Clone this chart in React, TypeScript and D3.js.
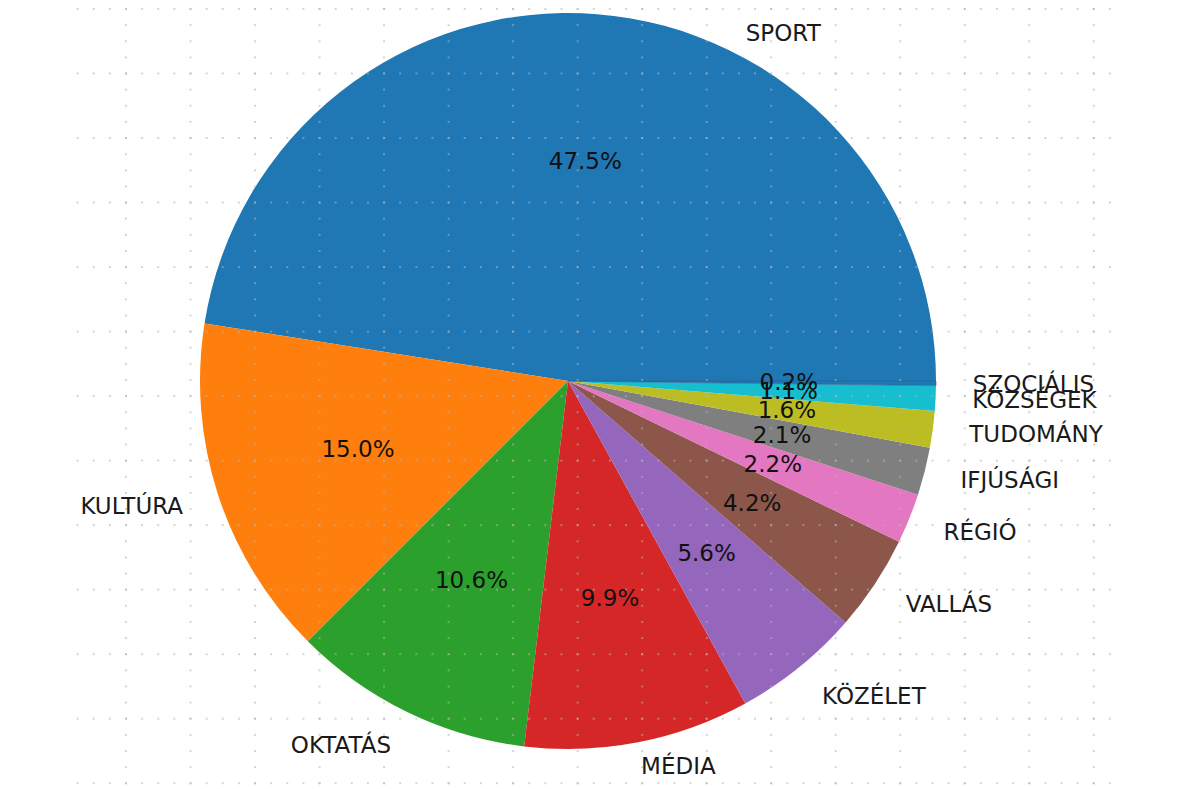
import React from "react";
import * as d3 from "d3";

const categories = ["SPORT", "KULTÚRA", "OKTATÁS", "MÉDIA", "KÖZÉLET", "VALLÁS", "RÉGIÓ", "IFJÚSÁGI", "TUDOMÁNY", "KÖZSÉGEK", "SZOCIÁLIS"];
const values = [47.5, 15.0, 10.6, 9.9, 5.6, 4.2, 2.2, 2.1, 1.6, 1.1, 0.2];
const colors = ["#1f77b4", "#ff7f0e", "#2ca02c", "#d62728", "#9467bd", "#8c564b", "#e377c2", "#7f7f7f", "#bcbd22", "#17becf", "#1f77b4"];

const W = 1200;
const H = 789;
const cx = 568;
const cy = 381;
const R = 368;
const FONT = "DejaVu Sans, sans-serif";
const FS = 23;

// label nudges for labels kept inside the canvas
const nudge: Record<string, [number, number]> = {
  SPORT: [146, 56],
  "MÉDIA": [-4, -12],
};

export default function App() {
  const data = categories.map((c, i) => ({ c, v: values[i], color: colors[i] }));
  const pie = d3
    .pie<{ c: string; v: number; color: string }>()
    .sort(null)
    .value((d) => d.v)
    .startAngle(Math.PI / 2)
    .endAngle(Math.PI / 2 - 2 * Math.PI);
  const arcs = pie(data);
  const arc = d3.arc<d3.PieArcDatum<{ c: string; v: number; color: string }>>().innerRadius(0).outerRadius(R);

  const step = 64.52;
  const dot = step / 4;
  const vxs = d3.range(16).map((k) => 126 + k * step);
  const hys = d3.range(13).map((j) => 9 + j * step);
  const hxs = d3.range(65).map((i) => 77.6 + i * dot);
  const vys = d3.range(49).map((i) => 9 + i * dot);

  const dots: [number, number][] = [];
  hys.forEach((y) => hxs.forEach((x) => dots.push([x, y])));
  vxs.forEach((x) => vys.forEach((y) => dots.push([x, y])));

  return (
    <svg width={W} height={H} style={{ position: "absolute", left: 0, top: 0, background: "#fff" }}>
      <g transform={`translate(${cx},${cy})`}>
        {arcs.map((a, i) => (
          <path key={i} d={arc(a) || ""} fill={a.data.color} stroke={i === arcs.length - 1 ? "#2a5f8f" : "none"} strokeWidth={0.6} />
        ))}
      </g>
      <g>
        {dots.map(([x, y], i) => (
          <rect key={i} x={x - 1} y={y - 1} width={2} height={2} fill="#b4b4b4" opacity={0.55} />
        ))}
      </g>
      <g transform={`translate(${cx},${cy})`} fontFamily={FONT} fontSize={FS}>
        {arcs.map((a, i) => {
          const mid = (a.startAngle + a.endAngle) / 2; // d3 angle, clockwise from north
          const sx = Math.sin(mid);
          const sy = -Math.cos(mid);
          const lx = sx * R * 1.1;
          const ly = sy * R * 1.1;
          const px = sx * R * 0.6;
          const py = sy * R * 0.6;
          const [nx, ny] = nudge[a.data.c] || [0, 0];
          return (
            <g key={i}>
              <text
                x={lx + nx}
                y={ly + ny}
                textAnchor={sx >= 0 ? "start" : "end"}
                dominantBaseline="central"
                fill="#1a1a1a"
              >
                {a.data.c}
              </text>
              <text x={px} y={py} textAnchor="middle" dominantBaseline="central" fill="#111">
                {a.data.v.toFixed(1)}%
              </text>
            </g>
          );
        })}
      </g>
    </svg>
  );
}
